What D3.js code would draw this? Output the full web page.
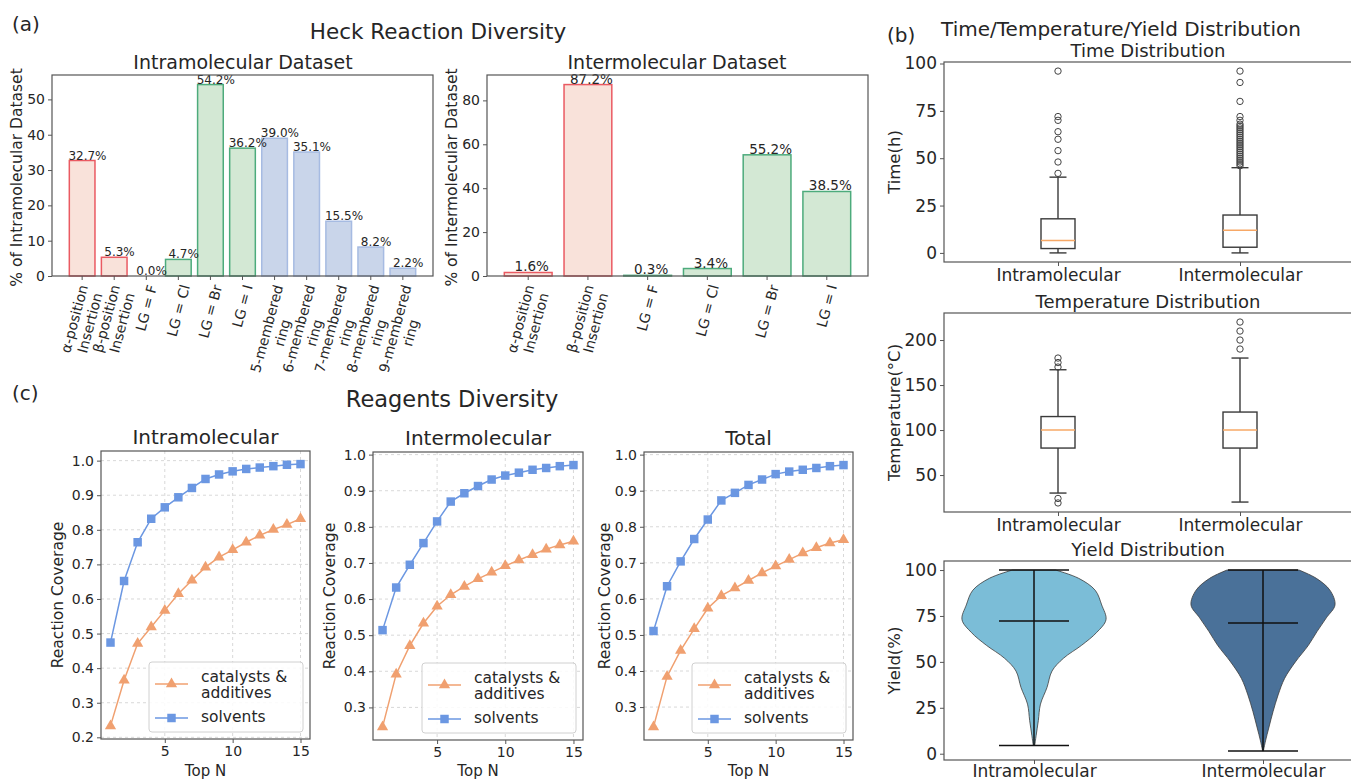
<!DOCTYPE html>
<html>
<head>
<meta charset="utf-8">
<script src="https://cdn.jsdelivr.net/npm/d3@7"></script>
<style>
  body { margin: 0; background: #fff; }
  svg { font-family: "DejaVu Sans", sans-serif; }
</style>
</head>
<body>
<div id="fig"></div>
<script>
// ---------- data ----------
const intraCats = ["α-position\nInsertion", "β-position\nInsertion", "LG = F", "LG = Cl", "LG = Br", "LG = I",
  "5-membered\nring", "6-membered\nring", "7-membered\nring", "8-membered\nring", "9-membered\nring"];
const intraGroups = ["pos", "pos", "lg", "lg", "lg", "lg", "ring", "ring", "ring", "ring", "ring"];
const intraPct = [32.7, 5.3, 0.0, 4.7, 54.2, 36.2, 39.0, 35.1, 15.5, 8.2, 2.2];

const interCats = ["α-position\nInsertion", "β-position\nInsertion", "LG = F", "LG = Cl", "LG = Br", "LG = I"];
const interGroups = ["pos", "pos", "lg", "lg", "lg", "lg"];
const interPct = [1.6, 87.2, 0.3, 3.4, 55.2, 38.5];

const boxCats = ["Intramolecular", "Intermolecular"];
// [whisker low, q1, median, q3, whisker high]
const timeBox = [[0, 2.3, 6.5, 18, 40], [0, 3, 12, 20, 45]];
const timeOutliers = [
  [42, 48, 54, 60, 64, 70, 72, 96],
  [46, 47, 48, 49, 50, 51, 52, 53, 54, 55, 56, 57, 58, 59, 60, 61, 62, 63, 64, 65, 66, 67, 68, 70, 72, 80, 90, 96]
];
const timeTicks = [0, 25, 50, 75, 100];

const tempBox = [[30, 80, 100, 115, 167], [20, 80, 100, 120, 180]];
const tempOutliers = [[19, 24, 170, 175, 180], [190, 200, 210, 220]];
const tempTicks = [50, 100, 150, 200];

// violin outline: yield level -> relative half width
const yieldLevels = [
  [4.5, 10, 18, 27, 36, 45, 52, 59, 66, 73, 81, 89, 95.5, 100],
  [1.5, 7, 14, 23, 32, 41, 50, 59, 66.5, 74, 81, 89, 95.5, 100]
];
const yieldWidths = [
  [0.01, 0.03, 0.06, 0.09, 0.18, 0.25, 0.41, 0.66, 0.87, 1.0, 0.94, 0.85, 0.62, 0.3],
  [0.005, 0.035, 0.08, 0.14, 0.21, 0.30, 0.45, 0.63, 0.75, 0.88, 1.0, 0.93, 0.74, 0.5]
];
// [min, mean, max]
const yieldStats = [[4.5, 72.2, 100], [1.5, 71.2, 100]];
const yieldTicks = [0, 25, 50, 75, 100];

const topN = [1, 2, 3, 4, 5, 6, 7, 8, 9, 10, 11, 12, 13, 14, 15];
const intraCatalysts = [0.233, 0.365, 0.471, 0.519, 0.567, 0.615, 0.654, 0.692, 0.721, 0.742, 0.764, 0.784, 0.801, 0.815, 0.832];
const intraSolvents = [0.474, 0.652, 0.764, 0.832, 0.865, 0.894, 0.921, 0.947, 0.960, 0.969, 0.976, 0.980, 0.984, 0.988, 0.990];
const interCatalysts = [0.246, 0.392, 0.471, 0.533, 0.580, 0.612, 0.635, 0.656, 0.674, 0.692, 0.708, 0.723, 0.738, 0.750, 0.760];
const interSolvents = [0.514, 0.632, 0.695, 0.755, 0.815, 0.870, 0.893, 0.913, 0.931, 0.942, 0.950, 0.958, 0.963, 0.968, 0.971];
const totalCatalysts = [0.245, 0.385, 0.457, 0.517, 0.574, 0.609, 0.630, 0.651, 0.672, 0.691, 0.709, 0.727, 0.742, 0.755, 0.764];
const totalSolvents = [0.511, 0.635, 0.704, 0.766, 0.820, 0.873, 0.894, 0.916, 0.931, 0.946, 0.953, 0.958, 0.963, 0.968, 0.971];
const topNTicks = [5, 10, 15];

// ---------- styles ----------
const ink = "#262626";
const spine = "#555";
const groupFill = { pos: "#f9e2da", lg: "#d3e8d4", ring: "#c9d5ea" };
const groupEdge = { pos: "#ea5a62", lg: "#4dab7c", ring: "#a6bbe2" };
const orange = "#f0a070";
const blue = "#6b97e2";

const svg = d3.select("#fig").append("svg")
  .attr("width", 1351)
  .attr("height", 783);

function styleAxis(a, fs) {
  a.select(".domain").remove();
  a.attr("font-family", "DejaVu Sans");
  a.selectAll(".tick line").attr("stroke", spine);
  a.selectAll(".tick text").attr("font-size", fs).attr("fill", ink);
}

function frame(g, x0, y0, x1, y1) {
  g.append("rect")
    .attr("x", x0).attr("y", y0)
    .attr("width", x1 - x0).attr("height", y1 - y0)
    .attr("fill", "none")
    .attr("stroke", spine)
    .attr("stroke-width", 1.2);
}

function label(g, txt, x, y, fs, opts = {}) {
  const t = g.append("text")
    .attr("x", x).attr("y", y)
    .attr("font-size", fs)
    .attr("fill", ink)
    .attr("text-anchor", opts.anchor || "middle")
    .text(txt);
  if (opts.rotate) t.attr("transform", `rotate(-90, ${x}, ${y})`);
  return t;
}

// ---------- bar charts ----------
function barChart(o) {
  const g = svg.append("g");
  const n = o.cats.length, R = n - 0.2;
  const x = d3.scaleLinear().domain([-0.4 - 0.05 * R, n - 0.6 + 0.05 * R]).range([o.left, o.right]);
  const y = d3.scaleLinear().domain([0, d3.max(o.vals) * 1.05]).range([o.bottom, o.top]);

  g.selectAll("rect.bar").data(o.vals).join("rect")
    .attr("class", "bar")
    .attr("x", (d, i) => x(i - 0.4))
    .attr("width", (d, i) => x(i + 0.4) - x(i - 0.4))
    .attr("y", d => y(d))
    .attr("height", d => y(0) - y(d))
    .attr("fill", (d, i) => groupFill[o.groups[i]])
    .attr("stroke", (d, i) => groupEdge[o.groups[i]])
    .attr("stroke-width", 1.5);

  g.selectAll("text.val").data(o.vals).join("text")
    .attr("class", "val")
    .attr("x", (d, i) => x(i) + o.valShift)
    .attr("y", d => y(d) - 1)
    .attr("text-anchor", "middle")
    .attr("font-size", o.valFs)
    .attr("fill", ink)
    .text(d => d.toFixed(1) + "%");

  const ya = g.append("g")
    .attr("transform", `translate(${o.left},0)`)
    .call(d3.axisLeft(y).ticks(o.yTicks).tickSize(4).tickPadding(3));
  styleAxis(ya, o.tickFs);

  g.selectAll("line.xt").data(o.cats).join("line")
    .attr("class", "xt")
    .attr("x1", (d, i) => x(i)).attr("x2", (d, i) => x(i))
    .attr("y1", o.bottom).attr("y2", o.bottom + 4)
    .attr("stroke", spine);

  // rotated multi-line tick labels (75 deg, centred)
  const ang = 75 * Math.PI / 180;
  o.cats.forEach((c, i) => {
    const lines = c.split("\n");
    const lh = o.xFs * 1.15;
    const lg = g.append("g");
    const t = lg.append("text")
      .attr("text-anchor", "middle")
      .attr("font-size", o.xFs)
      .attr("fill", ink);
    lines.forEach((s, k) => {
      t.append("tspan")
        .attr("x", 0)
        .attr("y", (k - (lines.length - 1) / 2) * lh + o.xFs * 0.35)
        .text(s);
    });
    const L = d3.max(t.selectAll("tspan").nodes(), nd => nd.getComputedTextLength());
    const H = lines.length * lh;
    const hh = (L * Math.sin(ang) + H * Math.cos(ang)) / 2;
    lg.attr("transform", `translate(${x(i)},${o.bottom + 7 + hh}) rotate(-75)`);
  });

  frame(g, o.left, o.top, o.right, o.bottom);
  label(g, o.title, o.titleX, o.top - 6, 19);
  label(g, o.ylabel, o.ylabelX, (o.top + o.bottom) / 2 + 2, 15.5, { rotate: true });
}

barChart({
  cats: intraCats, groups: intraGroups, vals: intraPct,
  left: 52, right: 433, top: 75, bottom: 276,
  yTicks: 6, tickFs: 14, xFs: 14, valFs: 12, valShift: 5.3,
  title: "Intramolecular Dataset", titleX: 243,
  ylabel: "% of Intramolecular Dataset", ylabelX: 22
});

barChart({
  cats: interCats, groups: interGroups, vals: interPct,
  left: 487, right: 868, top: 75, bottom: 276,
  yTicks: 5, tickFs: 14, xFs: 14, valFs: 13.5, valShift: 3.5,
  title: "Intermolecular Dataset", titleX: 677,
  ylabel: "% of Intermolecular Dataset", ylabelX: 457
});

// ---------- box plots ----------
function paddedExtent(arr) {
  const [mn, mx] = d3.extent(arr);
  const p = (mx - mn) * 0.05;
  return [mn - p, mx + p];
}

function boxPanel(o) {
  const g = svg.append("g");
  const y = d3.scaleLinear()
    .domain(paddedExtent(o.stats.flat().concat(o.outliers.flat())))
    .range([o.bottom, o.top]);
  const x = d3.scaleLinear().domain([1, 2]).range(o.centers);
  const hw = 17, cw = 8.5, stroke = "#3a3a3a";

  o.stats.forEach((s, i) => {
    const cx = x(i + 1);
    const [lo, q1, med, q3, hi] = s;
    g.append("line").attr("x1", cx).attr("x2", cx).attr("y1", y(lo)).attr("y2", y(q1))
      .attr("stroke", stroke).attr("stroke-width", 1.4);
    g.append("line").attr("x1", cx).attr("x2", cx).attr("y1", y(q3)).attr("y2", y(hi))
      .attr("stroke", stroke).attr("stroke-width", 1.4);
    [lo, hi].forEach(v => g.append("line")
      .attr("x1", cx - cw).attr("x2", cx + cw).attr("y1", y(v)).attr("y2", y(v))
      .attr("stroke", stroke).attr("stroke-width", 1.4));
    g.append("rect")
      .attr("x", cx - hw).attr("width", 2 * hw)
      .attr("y", y(q3)).attr("height", y(q1) - y(q3))
      .attr("fill", "none").attr("stroke", stroke).attr("stroke-width", 1.4);
    g.append("line").attr("x1", cx - hw).attr("x2", cx + hw).attr("y1", y(med)).attr("y2", y(med))
      .attr("stroke", "#f7a866").attr("stroke-width", 1.5);
    g.selectAll(null).data(o.outliers[i]).join("circle")
      .attr("cx", cx).attr("cy", d => y(d)).attr("r", 3.2)
      .attr("fill", "none").attr("stroke", "#444").attr("stroke-width", 1);
  });

  drawSideAxes(g, o, x, y);
}

function drawSideAxes(g, o, x, y) {
  const ya = g.append("g")
    .attr("transform", `translate(${o.left},0)`)
    .call(d3.axisLeft(y).tickValues(o.ticks).tickSize(4).tickPadding(3));
  styleAxis(ya, 17);
  const xa = g.append("g")
    .attr("transform", `translate(0,${o.bottom})`)
    .call(d3.axisBottom(x).tickValues([1, 2]).tickFormat((d, i) => boxCats[i])
      .tickSize(4).tickPadding(o.xPad !== undefined ? o.xPad : 3));
  styleAxis(xa, 17);
  frame(g, o.left, o.top, 1356, o.bottom);
  label(g, o.title, 1148, o.top - 5, 18);
  label(g, o.ylabel, 900, (o.top + o.bottom) / 2, 16.5, { rotate: true });
}

boxPanel({
  stats: timeBox, outliers: timeOutliers, ticks: timeTicks,
  left: 944, top: 62, bottom: 262, centers: [1058, 1240],
  title: "Time Distribution", ylabel: "Time(h)"
});

boxPanel({
  stats: tempBox, outliers: tempOutliers, ticks: tempTicks,
  left: 944, top: 313, bottom: 512, centers: [1058, 1240],
  title: "Temperature Distribution", ylabel: "Temperature(°C)"
});

// ---------- violin ----------
function violinPanel(o) {
  const g = svg.append("g");
  const y = d3.scaleLinear()
    .domain(paddedExtent(o.stats.flat()))
    .range([o.bottom, o.top]);
  const x = d3.scaleLinear().domain([1, 2]).range(o.centers);
  const w = d3.scaleLinear().domain([0, 1]).range([0, 72]);
  const fills = ["#7bbdd7", "#4a7199"];

  o.levels.forEach((lv, i) => {
    const cx = x(i + 1);
    const pts = lv.map((v, k) => [v, o.widths[i][k]]);
    const area = d3.area()
      .y(d => y(d[0]))
      .x0(d => cx - w(d[1]))
      .x1(d => cx + w(d[1]))
      .curve(d3.curveCatmullRom);
    g.append("path").datum(pts)
      .attr("d", area)
      .attr("fill", fills[i])
      .attr("stroke", "#3c3c3c")
      .attr("stroke-opacity", 0.8)
      .attr("stroke-width", 1);
    const [mn, mean, mx] = o.stats[i];
    g.append("line").attr("x1", cx).attr("x2", cx).attr("y1", y(mn)).attr("y2", y(mx))
      .attr("stroke", "#111").attr("stroke-width", 1.5);
    [mn, mean, mx].forEach(v => g.append("line")
      .attr("x1", cx - 35).attr("x2", cx + 35).attr("y1", y(v)).attr("y2", y(v))
      .attr("stroke", "#111").attr("stroke-width", 1.5));
  });

  drawSideAxes(g, o, x, y);
}

violinPanel({
  levels: yieldLevels, widths: yieldWidths, stats: yieldStats, ticks: yieldTicks,
  left: 944, top: 561, bottom: 760, centers: [1034, 1263], xPad: 1,
  title: "Yield Distribution", ylabel: "Yield(%)"
});

// ---------- coverage line charts ----------
function linePanel(o) {
  const g = svg.append("g");
  const x = d3.scaleLinear().domain(paddedExtent(topN)).range([o.left, o.right]);
  const y = d3.scaleLinear().domain(paddedExtent(o.cat.concat(o.solv))).range([o.bottom, o.top]);
  const yt = y.ticks(8);

  g.selectAll("line.gx").data(topNTicks).join("line")
    .attr("x1", d => x(d)).attr("x2", d => x(d)).attr("y1", o.top).attr("y2", o.bottom)
    .attr("stroke", "#d4d4d4").attr("stroke-dasharray", "3,3").attr("stroke-width", 0.9);
  g.selectAll("line.gy").data(yt).join("line")
    .attr("x1", o.left).attr("x2", o.right).attr("y1", d => y(d)).attr("y2", d => y(d))
    .attr("stroke", "#d4d4d4").attr("stroke-dasharray", "3,3").attr("stroke-width", 0.9);

  const line = d3.line().x((d, i) => x(topN[i])).y(d => y(d));
  const series = [
    { vals: o.cat, color: orange, sym: d3.symbolTriangle, size: 55 },
    { vals: o.solv, color: blue, sym: d3.symbolSquare, size: 72 }
  ];
  series.forEach(s => {
    g.append("path").datum(s.vals)
      .attr("d", line).attr("fill", "none")
      .attr("stroke", s.color).attr("stroke-width", 1.5);
    g.selectAll(null).data(s.vals).join("path")
      .attr("d", d3.symbol(s.sym, s.size))
      .attr("transform", (d, i) => `translate(${x(topN[i])},${y(d)})`)
      .attr("fill", s.color);
  });

  const ya = g.append("g")
    .attr("transform", `translate(${o.left},0)`)
    .call(d3.axisLeft(y).tickValues(yt).tickFormat(d3.format(".1f")).tickSize(4).tickPadding(3));
  styleAxis(ya, 14);
  const xa = g.append("g")
    .attr("transform", `translate(0,${o.bottom})`)
    .call(d3.axisBottom(x).tickValues(topNTicks).tickSize(4).tickPadding(3));
  styleAxis(xa, 14);
  frame(g, o.left, o.top, o.right, o.bottom);

  // legend
  const lx = o.right - 7 - 154, ly = o.bottom - 7 - 70;
  g.append("rect")
    .attr("x", lx).attr("y", ly).attr("width", 154).attr("height", 70).attr("rx", 3)
    .attr("fill", "#fff").attr("fill-opacity", 0.85)
    .attr("stroke", "#d0d0d0");
  const entries = [
    { color: orange, sym: d3.symbolTriangle, size: 55, ly: 22, text: ["catalysts &", "additives"], ty: 20 },
    { color: blue, sym: d3.symbolSquare, size: 72, ly: 56, text: ["solvents"], ty: 60 }
  ];
  entries.forEach(e => {
    g.append("line")
      .attr("x1", lx + 6).attr("x2", lx + 39)
      .attr("y1", ly + e.ly).attr("y2", ly + e.ly)
      .attr("stroke", e.color).attr("stroke-width", 1.5);
    g.append("path")
      .attr("d", d3.symbol(e.sym, e.size))
      .attr("transform", `translate(${lx + 22.5},${ly + e.ly})`)
      .attr("fill", e.color);
    e.text.forEach((s, k) => label(g, s, lx + 52, ly + e.ty + k * 16, 15.5, { anchor: "start" }));
  });

  label(g, o.title, (o.left + o.right) / 2, o.top - 7, 20);
  label(g, "Top N", (o.left + o.right) / 2, 776, 15);
  label(g, "Reaction Coverage", o.ylabelX, (o.top + o.bottom) / 2, 15.5, { rotate: true });
}

linePanel({ cat: intraCatalysts, solv: intraSolvents, left: 101, right: 310, top: 451, bottom: 739,
  title: "Intramolecular", ylabelX: 63 });
linePanel({ cat: interCatalysts, solv: interSolvents, left: 373, right: 583, top: 452, bottom: 740,
  title: "Intermolecular", ylabelX: 335 });
linePanel({ cat: totalCatalysts, solv: totalSolvents, left: 644, right: 853, top: 452, bottom: 740,
  title: "Total", ylabelX: 610 });

// ---------- figure-level titles ----------
const figTitles = svg.append("g");
label(figTitles, "(a)", 12, 31, 20, { anchor: "start" });
label(figTitles, "Heck Reaction Diversity", 438, 39, 21.5);
label(figTitles, "(b)", 887, 42, 20, { anchor: "start" });
label(figTitles, "Time/Temperature/Yield Distribution", 1121, 36, 20);
label(figTitles, "(c)", 12, 400, 20, { anchor: "start" });
label(figTitles, "Reagents Diversity", 452, 407, 22.5);
</script>
</body>
</html>
